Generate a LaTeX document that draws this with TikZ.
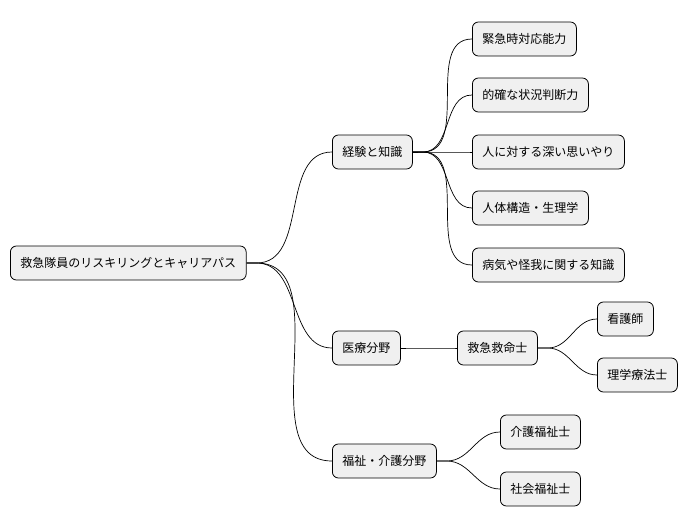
\documentclass[tikz,border=0pt]{standalone}
\usepackage{fontspec}
\setmainfont{Noto Sans CJK JP}
\begin{document}
\begin{tikzpicture}[x=1pt,y=-1pt,
  box/.style={draw=black,fill=black!6,rounded corners=6pt,line width=0.8pt,
    minimum height=34pt,inner xsep=10pt,anchor=west,font=\fontsize{12}{14}\selectfont},
  link/.style={draw=black,line width=0.7pt}]
\useasboundingbox (0,0) rectangle (698,527);
\node[box] (root) at (10,263) {救急隊員のリスキリングとキャリアパス};
\node[box] (k) at (332,152) {経験と知識};
\node[box] (i) at (332,348) {医療分野};
\node[box] (f) at (332,461) {福祉・介護分野};
\node[box] (k1) at (472,39) {緊急時対応能力};
\node[box] (k2) at (472,95) {的確な状況判断力};
\node[box] (k3) at (472,152) {人に対する深い思いやり};
\node[box] (k4) at (472,208) {人体構造・生理学};
\node[box] (k5) at (472,265) {病気や怪我に関する知識};
\node[box] (q) at (457,348) {救急救命士};
\node[box] (q1) at (597,319) {看護師};
\node[box] (q2) at (597,375) {理学療法士};
\node[box] (f1) at (500,432) {介護福祉士};
\node[box] (f2) at (500,489) {社会福祉士};
\foreach \a/\b in {root/k,root/i,root/f,k/k1,k/k2,k/k3,k/k4,k/k5,i/q,q/q1,q/q2,f/f1,f/f2}
  \draw[link] (\a.east) -- ++(10,0) to[out=0,in=180] (\b.west);
\end{tikzpicture}
\end{document}
